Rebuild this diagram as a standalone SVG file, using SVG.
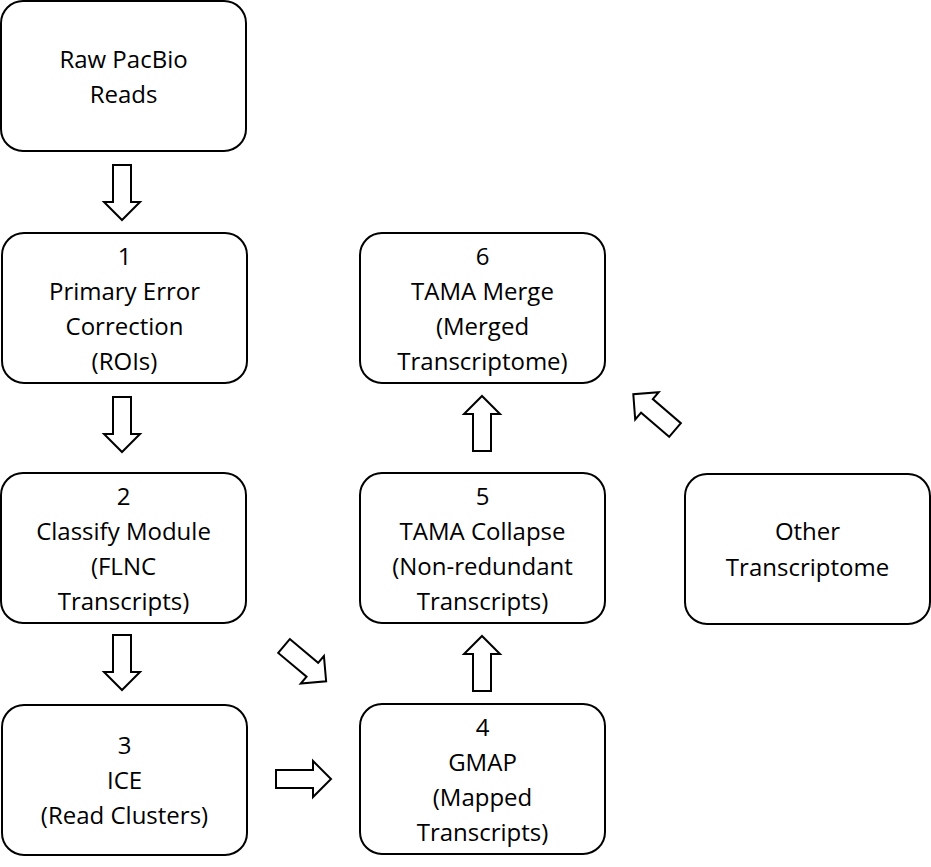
<svg xmlns="http://www.w3.org/2000/svg" width="931" height="867" viewBox="0 0 931 867">
<defs>
<style>
.box{fill:#fff;stroke:#000;stroke-width:2}
.t{font-family:"Open Sans","Noto Sans",sans-serif;font-size:24px;fill:#000;text-anchor:middle}
.arr{fill:#fff;stroke:#000;stroke-width:2;stroke-linejoin:miter}
</style>
<path id="ba" d="M0,-9 L37,-9 L37,-18 L55,0 L37,18 L37,9 L0,9 Z"/>
</defs>
<rect width="931" height="867" fill="#fff"/>
<g id="connectors">
<use href="#ba" class="arr" transform="translate(122,165) rotate(90)"/>
<use href="#ba" class="arr" transform="translate(122,397) rotate(90)"/>
<use href="#ba" class="arr" transform="translate(122,635) rotate(90)"/>
<use href="#ba" class="arr" transform="translate(276,779)"/>
<use href="#ba" class="arr" transform="translate(284,646) rotate(40)"/>
<use href="#ba" class="arr" transform="translate(482,691) rotate(-90)"/>
<use href="#ba" class="arr" transform="translate(482,451) rotate(-90)"/>
<use href="#ba" class="arr" transform="translate(675,430) rotate(220.7)"/>
</g>
<g id="raw">
<rect class="box" x="1" y="1" width="245" height="150" rx="22"/>
<text class="t" x="123.5" y="68">Raw PacBio</text>
<text class="t" x="123.5" y="103">Reads</text>
</g>
<g id="n1">
<rect class="box" x="2" y="233" width="245" height="150" rx="22"/>
<text class="t" x="124.5" y="265">1</text>
<text class="t" x="124.5" y="300">Primary Error</text>
<text class="t" x="124.5" y="335">Correction</text>
<text class="t" x="124.5" y="370">(ROIs)</text>
</g>
<g id="n2">
<rect class="box" x="1" y="473" width="245" height="150" rx="22"/>
<text class="t" x="123.5" y="505">2</text>
<text class="t" x="123.5" y="540">Classify Module</text>
<text class="t" x="123.5" y="575">(FLNC</text>
<text class="t" x="123.5" y="610">Transcripts)</text>
</g>
<g id="n3">
<rect class="box" x="2" y="705" width="245" height="150" rx="22"/>
<text class="t" x="124.5" y="754">3</text>
<text class="t" x="124.5" y="789">ICE</text>
<text class="t" x="124.5" y="824">(Read Clusters)</text>
</g>
<g id="n4">
<rect class="box" x="360" y="704" width="245" height="150" rx="22"/>
<text class="t" x="482.5" y="736">4</text>
<text class="t" x="482.5" y="771">GMAP</text>
<text class="t" x="482.5" y="806">(Mapped</text>
<text class="t" x="482.5" y="841">Transcripts)</text>
</g>
<g id="n5">
<rect class="box" x="360" y="473" width="245" height="150" rx="22"/>
<text class="t" x="482.5" y="505">5</text>
<text class="t" x="482.5" y="540">TAMA Collapse</text>
<text class="t" x="482.5" y="575">(Non-redundant</text>
<text class="t" x="482.5" y="610">Transcripts)</text>
</g>
<g id="n6">
<rect class="box" x="360" y="233" width="245" height="150" rx="22"/>
<text class="t" x="482.5" y="265">6</text>
<text class="t" x="482.5" y="300">TAMA Merge</text>
<text class="t" x="482.5" y="335">(Merged</text>
<text class="t" x="482.5" y="370">Transcriptome)</text>
</g>
<g id="other">
<rect class="box" x="685" y="474" width="245" height="150" rx="22"/>
<text class="t" x="807.5" y="540">Other</text>
<text class="t" x="807.5" y="576">Transcriptome</text>
</g>
</svg>
